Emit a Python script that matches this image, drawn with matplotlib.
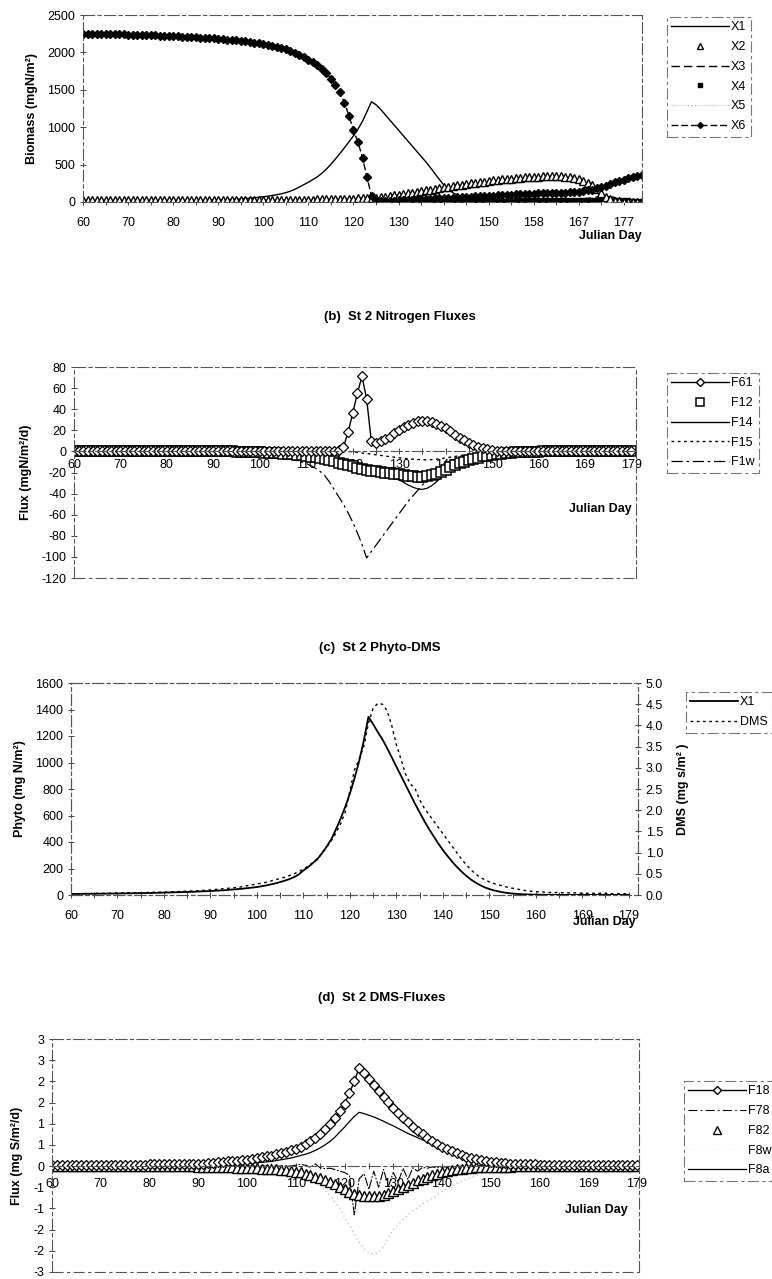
import matplotlib
matplotlib.use("Agg")
import matplotlib.pyplot as plt
from matplotlib.lines import Line2D

plt.rcParams["font.family"] = ["Liberation Sans", "DejaVu Sans"]
plt.rcParams["font.size"] = 9
plt.rcParams["axes.unicode_minus"] = False

# ---------------- (a) biomass, 125 day categories ----------------
a_days = ["60", "70", "80", "90", "100", "110", "120", "130", "140", "150", "158", "167", "177"]
a_x1 = [5, 5, 5, 5, 6, 6, 6, 6, 7, 7,
        7, 8, 8, 8, 9, 9, 10, 10, 11, 11,
        12, 13, 14, 15, 16, 17, 18, 20, 22, 24,
        26, 28, 31, 34, 38, 42, 46, 51, 57, 63,
        70, 78, 87, 97, 110, 125, 145, 170, 200, 232,
        265, 300, 338, 385, 440, 505, 575, 650, 725, 805,
        885, 975, 1080, 1210, 1340, 1300, 1240, 1170, 1100, 1030,
        960, 890, 820, 750, 680, 610, 540, 465, 385, 305,
        230, 170, 125, 92, 68, 50, 38, 29, 22, 17,
        13, 10, 8, 6, 5, 4, 4, 4, 3, 3,
        3, 3, 3, 3, 2, 2, 2, 2, 2, 2,
        2, 2, 2, 2, 2, 1, 1, 1, 1, 1,
        1, 1, 1, 1, 1]
a_x2 = [25] * 25 + [26, 26, 26, 26, 26,
        26, 26, 27, 27, 27, 27, 27, 28, 28, 28,
        28, 28, 29, 29, 29, 30, 30, 30, 31, 31,
        32, 33, 34, 35, 36, 37, 38, 40, 42, 44,
        46, 48, 50, 52, 55, 60, 66, 72, 80, 88,
        97, 106, 116, 126, 136, 146, 156, 166, 176, 186,
        196, 206, 215, 224, 233, 242, 250, 258, 266, 274,
        281, 288, 295, 301, 307, 313, 318, 323, 328, 332,
        336, 340, 343, 345, 346, 345, 342, 337, 330, 320,
        305, 285, 258, 222, 175, 120, 70, 38, 20, 10,
        5, 3, 2, 1, 1]
a_x3 = [2] * 30 + [3] * 30 + [4, 4, 5, 5, 6, 6, 7, 7, 8, 8,
        9, 9, 10, 10, 11, 11, 12, 12, 13, 13,
        14, 14, 15, 15, 16, 16, 17, 17, 18, 18,
        19, 20, 21, 22, 23, 24, 25, 26, 27, 28,
        29, 30, 31, 32, 33, 34, 35, 36, 37, 38,
        40, 44, 50, 58, 66, 72, 74, 70, 60, 48,
        40, 35, 32, 30, 28]
a_x4 = [1] * 60 + [3, 3, 4, 4, 5, 5, 6, 6, 7, 7,
        8, 8, 9, 9, 10, 10, 11, 11, 12, 12,
        13, 13, 14, 14, 15, 15, 16, 16, 17, 17,
        18, 18, 19, 19, 20, 20, 21, 21, 22, 22,
        23, 23, 24, 24, 25, 25, 26, 26, 27, 27,
        28, 28, 29, 30, 32, 35, 40, 38, 33, 28,
        24, 22, 20, 18, 17]
a_x5 = [4] * 60 + [5] * 30 + [6] * 20 + [8] * 15
a_x6 = [2250, 2249, 2248, 2247, 2246, 2245, 2244, 2243, 2242, 2240,
        2238, 2236, 2234, 2232, 2230, 2228, 2226, 2224, 2222, 2220,
        2217, 2214, 2211, 2208, 2205, 2202, 2198, 2194, 2190, 2186,
        2182, 2177, 2172, 2166, 2160, 2153, 2146, 2138, 2130, 2120,
        2110, 2098, 2085, 2070, 2055, 2040, 2018, 1992, 1965, 1935,
        1905, 1870, 1830, 1780, 1720, 1650, 1570, 1470, 1330, 1150,
        960, 800, 590, 330, 80, 8, 11, 14, 17, 20,
        23, 26, 29, 32, 35, 38, 41, 44, 47, 50,
        53, 56, 59, 62, 65, 68, 71, 74, 77, 80,
        83, 86, 89, 92, 95, 98, 101, 104, 107, 110,
        112, 114, 116, 118, 120, 122, 124, 127, 130, 134,
        139, 146, 155, 167, 182, 200, 220, 242, 262, 282,
        300, 318, 334, 348, 360]

# ---------------- (b) nitrogen fluxes, 121 categories ----------------
bcd_days = ["60", "70", "80", "90", "100", "110", "120", "130", "140", "150", "160", "169", "179"]
b_f61 = [0] * 50 + [0, 0, 0, 0, 0.2, 0.3, 0.5, 1.0, 4, 18,
         36, 55, 71, 50, 10, 8, 10, 12, 14, 17,
         20, 23, 25, 27, 28.5, 29, 28.5, 27.5, 26, 24,
         22, 19, 16, 13, 10.5, 8, 6, 4.5, 3, 2,
         1.3, 0.8, 0.5, 0.3] + [0] * 27
b_f12 = [0] * 35 + [-0.3, -0.4, -0.5, -0.6, -0.8,
         -1.0, -1.2, -1.4, -1.6, -1.9, -2.2, -2.5, -2.9, -3.3, -3.8,
         -4.3, -4.9, -5.6, -6.4, -7.3, -8.3, -9.4, -10.6, -11.8, -13,
         -14.2, -15.4, -16.5, -17.5, -18.3, -19, -19.6, -20.1, -20.6, -21.1,
         -21.7, -22.3, -23, -23.6, -24, -24, -23.5, -22.5, -21, -19.2,
         -17.2, -15.2, -13.2, -11.4, -9.8, -8.3, -7, -5.8, -4.8, -3.9,
         -3.2, -2.6, -2.1, -1.7, -1.3, -1, -0.8, -0.6, -0.4, -0.3,
         -0.2] + [0] * 20
b_f14 = [0] * 45 + [-0.5, -0.7, -0.9, -1.2, -1.6,
         -2, -2.5, -3, -3.7, -4.4, -5.2, -6, -7, -8, -9,
         -10, -11.5, -13, -14.5, -16, -17.5, -19, -21, -23, -25,
         -27, -29.5, -32, -34, -35.5, -36, -35, -32.5, -29, -25,
         -21, -17.5, -14, -11, -8.5, -6.5, -5, -3.8, -2.8, -2,
         -1.4, -1, -0.7, -0.5, -0.3, -0.2] + [0] * 25
b_f15 = [0] * 60 + [-0.5, -1, -1.5, -2, -2.6, -3.2, -3.8, -4.4, -5, -5.5,
         -6, -6.5, -7, -7.4, -7.7, -7.9, -8, -7.8, -7.4, -6.9,
         -6.2, -5.5, -4.8, -4.1, -3.4, -2.8, -2.2, -1.7, -1.3, -1,
         -0.7, -0.5, -0.3, -0.2, -0.1] + [0] * 26
b_f1w = [0] * 35 + [-0.5, -0.8, -1.1, -1.5, -2,
         -2.5, -3, -3.6, -4.3, -5, -5.8, -6.7, -7.7, -8.8, -10,
         -11.5, -13.5, -16, -19, -23, -29, -36, -43, -50, -58,
         -67, -77, -88, -101, -95, -89, -83, -77, -71, -65,
         -59, -53, -47, -42, -37, -32, -27, -23, -19, -15,
         -12, -9.5, -7.5, -6, -4.8, -3.8, -3, -2.3, -1.7, -1.2,
         -0.8, -0.5, -0.3, -0.2, -0.1] + [0] * 26

# ---------------- (c) phyto and DMS ----------------
c_x1 = [8, 8, 8.5, 9, 9, 9.5, 10, 10, 10.5, 11,
        11.5, 12, 12.5, 13, 13.5, 14, 15, 15.5, 16, 17,
        18, 19, 20, 21, 22, 23, 24, 25.5, 27, 28.5,
        30, 32, 34, 36, 39, 42, 45, 48, 52, 56,
        60, 66, 72, 80, 88, 98, 108, 120, 135, 155,
        185, 210, 240, 270, 315, 365, 420, 495, 575, 665,
        765, 880, 1010, 1165, 1345, 1290, 1230, 1175, 1110, 1040,
        970, 900, 830, 760, 690, 625, 560, 500, 445, 390,
        340, 295, 252, 213, 178, 146, 118, 95, 75, 58,
        45, 35, 27, 20, 15, 11, 8, 6, 4.5, 3.5,
        2.5, 2, 2, 1.5, 1.5, 1, 1, 1, 1, 1,
        1, 1, 1, 1, 1, 1, 1, 1, 1, 1, 1]
c_dms = [0.03, 0.03, 0.03, 0.035, 0.035, 0.035, 0.04, 0.04, 0.04, 0.045,
         0.045, 0.05, 0.05, 0.05, 0.055, 0.055, 0.06, 0.06, 0.065, 0.065,
         0.07, 0.07, 0.075, 0.08, 0.085, 0.09, 0.095, 0.1, 0.105, 0.11,
         0.12, 0.13, 0.14, 0.15, 0.16, 0.17, 0.18, 0.2, 0.22, 0.24,
         0.26, 0.28, 0.3, 0.33, 0.36, 0.39, 0.42, 0.46, 0.5, 0.55,
         0.61, 0.68, 0.76, 0.86, 0.98, 1.12, 1.28, 1.46, 1.68, 1.95,
         2.45, 2.95, 3.2, 3.5, 4.05, 4.4, 4.52, 4.5, 4.35, 4.0,
         3.55, 3.2, 2.85, 2.62, 2.52, 2.25, 2.05, 1.9, 1.75, 1.6,
         1.45, 1.3, 1.15, 1.0, 0.85, 0.72, 0.6, 0.5, 0.42, 0.36,
         0.31, 0.27, 0.24, 0.21, 0.18, 0.16, 0.14, 0.12, 0.1, 0.09,
         0.08, 0.07, 0.07, 0.06, 0.06, 0.06, 0.05, 0.05, 0.05, 0.05,
         0.04, 0.04, 0.04, 0.04, 0.04, 0.04, 0.03, 0.03, 0.03, 0.03, 0.03]

# ---------------- (d) DMS fluxes ----------------
d_f18 = [0.03] * 20 + [0.04] * 10 + [0.05, 0.06, 0.07, 0.08, 0.09, 0.1, 0.11, 0.12, 0.13, 0.14,
         0.15, 0.17, 0.19, 0.21, 0.23, 0.25, 0.28, 0.31, 0.34, 0.37,
         0.41, 0.46, 0.52, 0.59, 0.67, 0.76, 0.87, 1.0, 1.14, 1.3,
         1.47, 1.72, 2.0, 2.32, 2.2, 2.06, 1.92, 1.78, 1.64, 1.51,
         1.38, 1.26, 1.14, 1.03, 0.93, 0.84, 0.75, 0.67, 0.59, 0.52,
         0.46, 0.4, 0.35, 0.3, 0.26, 0.22, 0.19, 0.16, 0.14, 0.12,
         0.1, 0.09, 0.08, 0.07, 0.06, 0.05, 0.05, 0.04, 0.04, 0.04] + [0.03] * 21
d_f78 = [0] * 50 + [0.02, 0.04, 0.02, -0.03, 0.05, -0.04, -0.06, -0.05, -0.08, -0.12,
         -0.15, -0.22, -1.15, -0.3, -0.18, -0.55, -0.12, -0.5, -0.08, -0.48,
         -0.15, -0.38, -0.05, -0.32, -0.04, -0.12, -0.03, -0.05, -0.02, -0.04,
         -0.02, -0.02, -0.01, -0.01] + [0] * 37
d_f82 = [0.0] * 30 + [-0.01, -0.01, -0.015, -0.02, -0.02, -0.025, -0.03, -0.03, -0.035, -0.04,
         -0.045, -0.05, -0.055, -0.06, -0.065, -0.07, -0.08, -0.09, -0.1, -0.11,
         -0.13, -0.15, -0.18, -0.21, -0.25, -0.29, -0.33, -0.38, -0.43, -0.49,
         -0.55, -0.6, -0.65, -0.68, -0.7, -0.71, -0.71, -0.7, -0.68, -0.64,
         -0.59, -0.54, -0.49, -0.44, -0.39, -0.34, -0.3, -0.26, -0.22, -0.18,
         -0.15, -0.12, -0.1, -0.08, -0.06, -0.05, -0.04, -0.03, -0.02, -0.015] + [-0.01] * 5 + [0.0] * 26
d_f8w = [0] * 45 + [-0.03, -0.05, -0.07, -0.1, -0.12,
         -0.15, -0.19, -0.24, -0.3, -0.37, -0.45, -0.56, -0.7, -0.85, -1.0,
         -1.2, -1.4, -1.6, -1.8, -1.95, -2.05, -2.08, -2.04, -1.9, -1.7,
         -1.5, -1.38, -1.26, -1.15, -1.06, -0.98, -0.9, -0.83, -0.75, -0.68,
         -0.6, -0.54, -0.47, -0.41, -0.36, -0.31, -0.26, -0.22, -0.18, -0.15,
         -0.12, -0.1, -0.08, -0.06, -0.04, -0.03, -0.03, -0.02, -0.02, -0.01] + [0] * 21
d_f8a = [0.01] * 20 + [0.02] * 10 + [0.03, 0.03, 0.03, 0.04, 0.04, 0.04, 0.05, 0.05, 0.05, 0.05,
         0.06, 0.07, 0.08, 0.09, 0.1, 0.11, 0.13, 0.15, 0.17, 0.19,
         0.22, 0.25, 0.28, 0.32, 0.37, 0.43, 0.5, 0.58, 0.68, 0.8,
         0.92, 1.05, 1.17, 1.27, 1.24, 1.2, 1.16, 1.11, 1.06, 1.0,
         0.95, 0.89, 0.83, 0.77, 0.72, 0.67, 0.62, 0.58, 0.53, 0.48,
         0.43, 0.38, 0.33, 0.28, 0.24, 0.2, 0.16, 0.13, 0.11, 0.09,
         0.07, 0.06, 0.05, 0.04, 0.03, 0.03, 0.02, 0.02, 0.02, 0.02] + [0.01] * 21
d_yticks = [3.0, 2.5, 2.0, 1.5, 1.0, 0.5, 0.0, -0.5, -1.0, -1.5, -2.0, -2.5]
d_ylabels = ["3", "3", "2", "2", "1", "1", "0", "-1", "-1", "-2", "-2", "-3"]

W, H = 772, 1279
fig = plt.figure(figsize=(W / 100, H / 100), dpi=100)

BORDER = dict(color="#555555", linewidth=0.8, linestyle=(0, (10, 3, 3, 3)))


def box(l, t, r, b):
    return [l / W, 1 - b / H, (r - l) / W, (b - t) / H]


def style(ax, xpad):
    for s in ax.spines.values():
        s.set_color(BORDER["color"])
        s.set_linewidth(BORDER["linewidth"])
        s.set_linestyle(BORDER["linestyle"])
    ax.tick_params(direction="inout", length=5, width=0.7, color="#444444", labelsize=9)
    ax.tick_params(axis="x", pad=xpad)
    ax.tick_params(axis="y", pad=3)
    ax.set_facecolor("none")


def day_ticks(ax, n, labels):
    pos = list(range(0, n, 5))
    ax.set_xticks(pos)
    ax.set_xticklabels([labels[p // 10] if p % 10 == 0 else "" for p in pos])


def legend(ax, handles, labels, x, y, hl=4.6):
    leg = ax.legend(handles, labels, loc="upper left", bbox_to_anchor=(x / W, 1 - y / H),
                    bbox_transform=fig.transFigure, fancybox=False, fontsize=9,
                    handlelength=hl, handletextpad=0.15, labelspacing=0.62,
                    borderpad=0.35, borderaxespad=0)
    fr = leg.get_frame()
    fr.set_edgecolor("#555555")
    fr.set_linewidth(0.8)
    fr.set_linestyle((0, (10, 3, 3, 3)))
    return leg


def julian(ax, x, y):
    ax.text(x, y, "Julian Day", transform=ax.transAxes, ha="center", va="center",
            fontsize=9, fontweight="bold")


# ---- panel (a)
ax = fig.add_axes(box(83, 15, 642, 202))
xa = list(range(len(a_x1)))
ax.plot(xa, a_x5, color="#aaaaaa", lw=0.8, ls=(0, (1, 2)))
ax.plot(xa, a_x3, color="black", lw=1.0, ls=(0, (6, 3)))
ax.plot(xa, a_x4, ls="none", marker="s", ms=2.6, color="black")
ax.plot(xa, a_x1, color="black", lw=1.0)
ax.plot(xa, a_x2, ls="none", marker="^", ms=6, mfc="white", mec="black", mew=1.0)
ax.plot(xa, a_x6, color="black", lw=1.0, ls=(0, (5, 2)), marker="D", ms=4.0)
ax.set_xlim(0, 124)
ax.set_ylim(0, 2500)
ax.set_yticks(range(0, 2501, 500))
day_ticks(ax, 125, a_days)
style(ax, 8)
ax.set_ylabel("Biomass (mgN/m²)", fontsize=9, fontweight="bold")
ax.yaxis.set_label_coords(-0.080, 0.5)
julian(ax, 0.943, -0.18)
legend(ax, [Line2D([], [], color="black", lw=1.0),
            Line2D([], [], ls="none", marker="^", ms=5, mfc="white", mec="black", mew=1.0),
            Line2D([], [], color="black", lw=1.0, ls=(0, (6, 3))),
            Line2D([], [], ls="none", marker="s", ms=3, color="black"),
            Line2D([], [], color="#aaaaaa", lw=0.8, ls=(0, (1, 2))),
            Line2D([], [], color="black", lw=1.0, ls=(0, (5, 2)), marker="D", ms=3.0)],
       ["X1", "X2", "X3", "X4", "X5", "X6"], 667, 17)

# ---- panel (b)
fig.text(400 / W, 1 - 317 / H, "(b)  St 2 Nitrogen Fluxes", ha="center", va="center",
         fontsize=9.5, fontweight="bold")
ax = fig.add_axes(box(74, 367, 636, 578))
xb = list(range(len(b_f61)))
ax.plot(xb, b_f15, color="black", lw=1.0, ls=(0, (2, 2.5)))
ax.plot(xb, b_f1w, color="black", lw=0.9, ls=(0, (9, 3, 2, 3)))
ax.plot(xb, b_f14, color="black", lw=0.9)
ax.plot(xb, b_f12, ls="none", marker="s", ms=6.5, mfc="white", mec="black", mew=1.1)
ax.plot(xb, b_f61, color="black", lw=1.0, marker="D", ms=5.0, mfc="white", mec="black", mew=0.9)
ax.set_xlim(0, 121)
ax.set_ylim(-120, 80)
ax.set_yticks(range(-120, 81, 20))
day_ticks(ax, 121, bcd_days)
style(ax, 3)
ax.spines["bottom"].set_position(("data", 0))
ax.axhline(-120, clip_on=False, **BORDER)
ax.set_ylabel("Flux (mgN/m²/d)", fontsize=9, fontweight="bold")
ax.yaxis.set_label_coords(-0.074, 0.5)
julian(ax, 0.936, 0.327)
legend(ax, [Line2D([], [], color="black", lw=1.0, marker="D", ms=4.5, mfc="white", mec="black"),
            Line2D([], [], ls="none", marker="s", ms=5.5, mfc="white", mec="black", mew=1.1),
            Line2D([], [], color="black", lw=1.0),
            Line2D([], [], color="black", lw=1.0, ls=(0, (2, 2.5))),
            Line2D([], [], color="black", lw=0.9, ls=(0, (9, 3, 2, 3)))],
       ["F61", "F12", "F14", "F15", "F1w"], 667, 373)

# ---- panel (c)
fig.text(380 / W, 1 - 648 / H, "(c)  St 2 Phyto-DMS", ha="center", va="center",
         fontsize=9.5, fontweight="bold")
ax = fig.add_axes(box(71, 683, 638, 895))
ax2 = ax.twinx()
xc = list(range(len(c_x1)))
l1, = ax.plot(xc, c_x1, color="black", lw=1.3)
l2, = ax2.plot(xc, c_dms, color="black", lw=1.0, ls=(0, (2, 2.5)))
ax.set_xlim(0, 122)
ax.set_ylim(0, 1600)
ax.set_yticks(range(0, 1601, 200))
ax2.set_ylim(0, 5.0)
ax2.set_yticks([i * 0.5 for i in range(11)])
ax2.set_yticklabels([f"{i * 0.5:.1f}" for i in range(11)])
day_ticks(ax, 121, bcd_days)
style(ax, 8)
style(ax2, 8)
ax.set_ylabel("Phyto (mg N/m²)", fontsize=9, fontweight="bold")
ax.yaxis.set_label_coords(-0.080, 0.5)
ax2.set_ylabel("DMS (mg s/m² )", fontsize=9, fontweight="bold")
ax2.yaxis.set_label_coords(1.068, 0.5)
julian(ax, 0.94, -0.127)
legend(ax2, [l1, l2], ["X1", "DMS"], 686, 692, hl=3.8)

# ---- panel (d)
fig.text(382 / W, 1 - 998 / H, "(d)  St 2 DMS-Fluxes", ha="center", va="center",
         fontsize=9.5, fontweight="bold")
ax = fig.add_axes(box(52, 1039, 639, 1272))
xd = list(range(len(d_f18)))
ax.plot(xd, d_f8w, color="#bbbbbb", lw=0.9, ls=(0, (1, 2.5)))
ax.plot(xd, d_f78, color="black", lw=0.8, ls=(0, (8, 1.5, 1.5, 1.5)))
ax.plot(xd, d_f8a, color="black", lw=0.9)
ax.plot(xd, d_f82, ls="none", marker="^", ms=6.5, mfc="white", mec="black", mew=1.0)
ax.plot(xd, d_f18, color="black", lw=1.0, marker="D", ms=5.2, mfc="white", mec="black", mew=0.9)
ax.set_xlim(0, 120.4)
ax.set_ylim(-2.5, 3.0)
ax.set_yticks(d_yticks)
ax.set_yticklabels(d_ylabels)
day_ticks(ax, 121, bcd_days)
style(ax, 6)
ax.spines["bottom"].set_position(("data", 0))
ax.axhline(-2.5, clip_on=False, **BORDER)
ax.set_ylabel("Flux (mg S/m²/d)", fontsize=9, fontweight="bold")
ax.yaxis.set_label_coords(-0.050, 0.5)
julian(ax, 0.928, 0.266)
legend(ax, [Line2D([], [], color="black", lw=1.0, marker="D", ms=4.5, mfc="white", mec="black"),
            Line2D([], [], color="black", lw=0.8, ls=(0, (8, 3, 1.5, 3))),
            Line2D([], [], ls="none", marker="^", ms=5.5, mfc="white", mec="black", mew=1.0),
            Line2D([], [], color="#eeeeee", lw=0.6, ls=(0, (1, 3))),
            Line2D([], [], color="black", lw=0.9)],
       ["F18", "F78", "F82", "F8w", "F8a"], 684, 1081)

fig.savefig("out.png", dpi=100)
